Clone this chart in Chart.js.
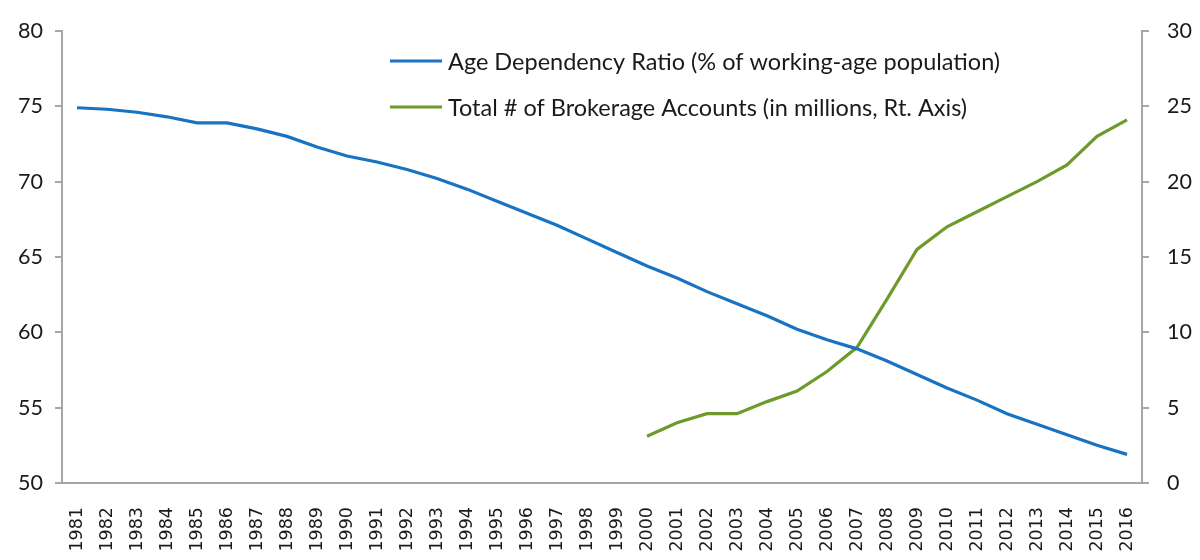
<!DOCTYPE html>
<html>
<head>
<meta charset="utf-8">
<script src="https://cdn.jsdelivr.net/npm/chart.js@4.4.1/dist/chart.umd.min.js"></script>
<style>
    html, body { margin: 0; padding: 0; background: #fff; }
    #wrap { width: 1200px; height: 560px; }
</style>
</head>
<body>
<div id="wrap"><canvas id="chart" width="1200" height="560"></canvas></div>
<script>
const years = ['1981', '1982', '1983', '1984', '1985', '1986', '1987', '1988', '1989', '1990',
    '1991', '1992', '1993', '1994', '1995', '1996', '1997', '1998', '1999', '2000',
    '2001', '2002', '2003', '2004', '2005', '2006', '2007', '2008', '2009', '2010',
    '2011', '2012', '2013', '2014', '2015', '2016'];

// % of working-age population (left axis)
const ageDependency = [74.9, 74.8, 74.6, 74.3, 73.9, 73.9, 73.5, 73.0, 72.3, 71.7,
    71.3, 70.8, 70.2, 69.5, 68.7, 67.9, 67.1, 66.2, 65.3, 64.4,
    63.6, 62.7, 61.9, 61.1, 60.2, 59.5, 58.9, 58.1, 57.2, 56.3,
    55.5, 54.6, 53.9, 53.2, 52.5, 51.9];

// millions (right axis), no data before 2000
const brokerageAccounts = [null, null, null, null, null, null, null, null, null, null,
    null, null, null, null, null, null, null, null, null, 3.1,
    4.0, 4.6, 4.6, 5.4, 6.1, 7.4, 9.0, 12.2, 15.5, 17.0,
    18.0, 19.0, 20.0, 21.1, 23.0, 24.1];

const leftTicks = [50, 55, 60, 65, 70, 75, 80];
const rightTicks = [0, 5, 10, 15, 20, 25, 30];

const seriesNames = [
    'Age Dependency Ratio (% of working-age population)',
    'Total # of Brokerage Accounts (in millions, Rt. Axis)'
];

const axisColor = '#a6a6a6';
const textColor = '#1a1a1a';

// legend drawn inside the plot, like the original
const insideLegend = {
    id: 'insideLegend',
    afterDraw(chart) {
        const ctx = chart.ctx;
        ctx.save();
        ctx.font = '23.5px Lato';
        ctx.textBaseline = 'middle';
        ctx.fillStyle = textColor;
        chart.data.datasets.forEach((ds, i) => {
            const y = 61 + i * 46;
            ctx.strokeStyle = ds.borderColor;
            ctx.lineWidth = 3;
            ctx.beginPath();
            ctx.moveTo(390, y);
            ctx.lineTo(442, y);
            ctx.stroke();
            ctx.fillText(ds.label, 448, y + 1);
        });
        ctx.restore();
    }
};

new Chart(document.getElementById('chart'), {
    type: 'line',
    data: {
        labels: years,
        datasets: [{
            label: seriesNames[0],
            data: ageDependency,
            borderColor: '#1873c2',
            borderWidth: 3.2,
            pointRadius: 0,
            tension: 0,
            yAxisID: 'y'
        }, {
            label: seriesNames[1],
            data: brokerageAccounts,
            borderColor: '#6e9a2c',
            borderWidth: 3.2,
            pointRadius: 0,
            tension: 0,
            yAxisID: 'y1'
        }]
    },
    options: {
        responsive: false,
        animation: false,
        layout: { padding: { top: 22, left: 0, right: 0, bottom: 0 } },
        plugins: {
            legend: { display: false },
            tooltip: { enabled: false }
        },
        scales: {
            x: {
                offset: true,
                grid: { display: false },
                border: { color: axisColor, width: 2 },
                ticks: {
                    autoSkip: false,
                    maxRotation: 90,
                    minRotation: 90,
                    padding: 16,
                    color: textColor,
                    font: { family: 'DejaVu Sans', size: 17.5 }
                },
                afterFit(scale) { scale.height = 77; }
            },
            y: {
                position: 'left',
                min: 50,
                max: 80,
                afterBuildTicks(scale) { scale.ticks = leftTicks.map(v => ({ value: v })); },
                grid: { drawOnChartArea: false, tickLength: 7, color: axisColor, lineWidth: 2 },
                border: { color: axisColor, width: 2 },
                ticks: {
                    padding: 12,
                    color: textColor,
                    font: { family: 'Lato', size: 21.5 }
                },
                afterFit(scale) { scale.width = 62; }
            },
            y1: {
                position: 'right',
                min: 0,
                max: 30,
                afterBuildTicks(scale) { scale.ticks = rightTicks.map(v => ({ value: v })); },
                grid: { drawOnChartArea: false, tickLength: 7, color: axisColor, lineWidth: 2 },
                border: { color: axisColor, width: 2 },
                ticks: {
                    padding: 18,
                    color: textColor,
                    font: { family: 'Lato', size: 21.5 }
                },
                afterFit(scale) { scale.width = 58; }
            }
        }
    },
    plugins: [insideLegend]
});
</script>
</body>
</html>
